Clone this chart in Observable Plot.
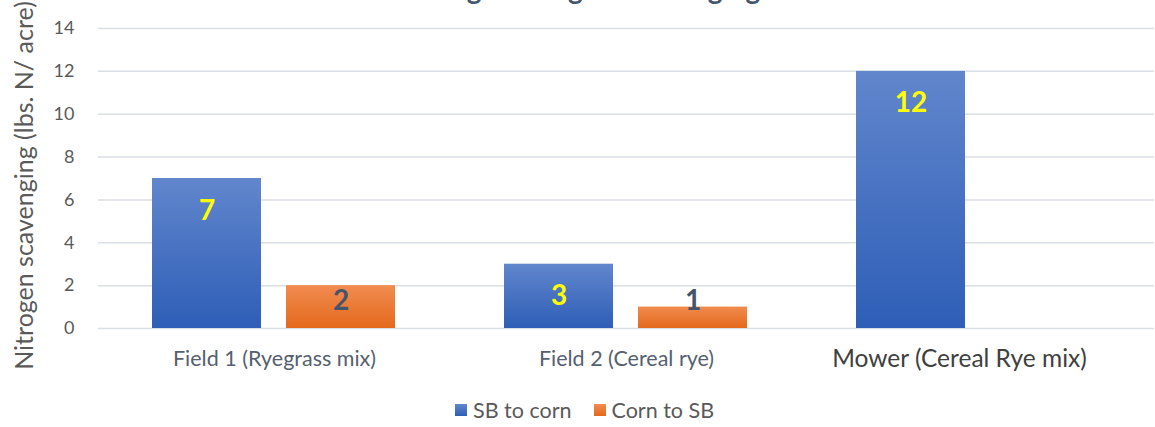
<!DOCTYPE html>
<html>
<head>
<meta charset="utf-8">
<script src="https://cdn.jsdelivr.net/npm/d3@7"></script>
<script src="https://cdn.jsdelivr.net/npm/@observablehq/plot@0.6"></script>
<style>
  body { margin: 0; background: #fff; }
  #wrap { position: relative; width: 1155px; height: 427px; overflow: hidden; font-family: Lato, sans-serif; }
  #title { position: absolute; left: 0; width: 1155px; top: -27px; text-align: center; font: bold 28px Lato, sans-serif; line-height: 30px; color: #44546a; white-space: nowrap; }
  #chart { position: absolute; left: 0; top: 0; }
  #legend { position: absolute; top: 397px; left: 455px; display: flex; align-items: center; font: 21.5px Lato, sans-serif; color: #595959; white-space: nowrap; }
  #legend .item { display: flex; align-items: center; margin-right: 22px; }
  #legend .sw { display: inline-block; width: 12px; height: 12px; margin-right: 6px; }
</style>
</head>
<body>
<div id="wrap">
  <div id="chart"></div>
  <div id="title"></div>
  <div id="legend"></div>
</div>
<script>
const titleText = "Average Nitrogen Scavenging";
const categories = ["Field 1 (Ryegrass mix)", "Field 2 (Cereal rye)", "Mower (Cereal Rye mix)"];
const series = ["SB to corn", "Corn to SB"];
const sbToCorn = [7, 3, 12];
const cornToSB = [2, 1, null];
const yTicks = [0, 2, 4, 6, 8, 10, 12, 14];
const yLabel = "Nitrogen scavenging (lbs. N/ acre)";

const gradIds = ["gBlue", "gOrange"];
const gradStops = [["#6186cc", "#2e5eb7"], ["#f18c50", "#e4691c"]];
const labelColors = ["#ffff00", "#44546a"];

const data = categories.flatMap((c, i) => [
  {category: c, series: series[0], value: sbToCorn[i]},
  {category: c, series: series[1], value: cornToSB[i]}
]).filter(d => d.value != null);

document.getElementById("title").textContent = titleText;

const defsMark = () => {
  const ns = "http://www.w3.org/2000/svg";
  const defs = document.createElementNS(ns, "defs");
  gradIds.forEach((id, i) => {
    const g = document.createElementNS(ns, "linearGradient");
    g.setAttribute("id", id);
    g.setAttribute("x1", "0"); g.setAttribute("y1", "0");
    g.setAttribute("x2", "0"); g.setAttribute("y2", "1");
    gradStops[i].forEach((c, j) => {
      const s = document.createElementNS(ns, "stop");
      s.setAttribute("offset", String(j));
      s.setAttribute("stop-color", c);
      g.appendChild(s);
    });
    defs.appendChild(g);
  });
  return defs;
};

const barMarks = series.flatMap((s, i) => {
  const sub = data.filter(d => d.series === s);
  return [
    Plot.barY(sub, {fx: "category", x: "series", y: "value", fill: `url(#${gradIds[i]})`}),
    Plot.text(sub, {
      fx: "category", x: "series",
      y: d => Math.max(d.value - 1.5, 1.3),
      text: d => String(d.value),
      fontSize: 28, fontWeight: "bold", fill: labelColors[i]
    })
  ];
});

const chart = Plot.plot({
  width: 1155,
  height: 385,
  marginTop: 28,
  marginBottom: 57,
  marginLeft: 97,
  marginRight: 0,
  style: {fontFamily: "Lato, sans-serif", background: "transparent", overflow: "visible"},
  fx: {domain: categories, padding: 0, axis: null},
  x: {domain: series, paddingInner: 0.185, paddingOuter: 0.4, axis: null},
  y: {domain: [0, 14], axis: null},
  marks: [
    defsMark,
    Plot.ruleY(yTicks, {stroke: "#dadfe5", strokeWidth: 1.5}),
    Plot.axisY({ticks: yTicks, tickSize: 0, tickPadding: 24, fontSize: 18, fill: "#595959", label: null, tickFormat: d => String(d)}),
    ...barMarks,
    Plot.text(categories.slice(0, 2), {fx: d => d, frameAnchor: "bottom", lineAnchor: "top", dy: 22, fontSize: 21.5, fill: "#556070"}),
    Plot.text(categories.slice(2), {fx: d => d, frameAnchor: "bottom", lineAnchor: "top", dx: -19, dy: 21, fontSize: 24.5, fill: "#404040"}),
    Plot.text([yLabel], {fx: () => categories[0], frameAnchor: "left", textAnchor: "middle", rotate: -90, dx: -74, dy: 7, fontSize: 25, fill: "#595959"})
  ]
});
document.getElementById("chart").appendChild(chart);

const legend = document.getElementById("legend");
series.forEach((s, i) => {
  const item = document.createElement("div");
  item.className = "item";
  const sw = document.createElement("span");
  sw.className = "sw";
  sw.style.background = `linear-gradient(${gradStops[i][0]}, ${gradStops[i][1]})`;
  const t = document.createElement("span");
  t.textContent = s;
  item.appendChild(sw);
  item.appendChild(t);
  legend.appendChild(item);
});
</script>
</body>
</html>
